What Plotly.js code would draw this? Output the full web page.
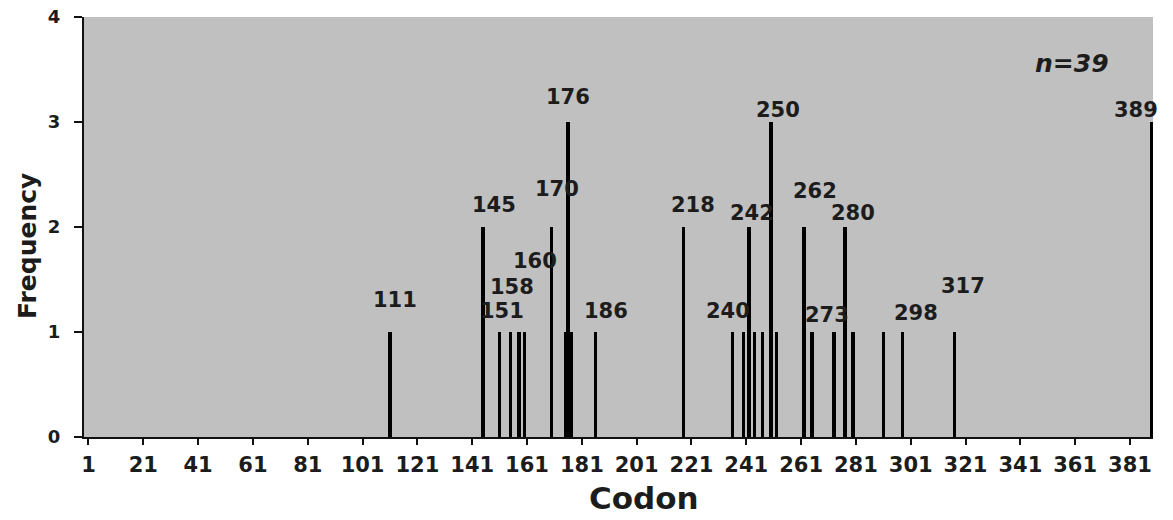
<!DOCTYPE html>
<html>
<head>
<meta charset="utf-8">
<script src="https://cdn.plot.ly/plotly-3.0.1.min.js"></script>
<style>html,body{margin:0;padding:0;background:#fff;}#chart{width:1173px;height:520px;}</style>
</head>
<body>
<div id="chart"></div>
<script>
// ---- data ----
const codons = [111,145,151,155,158,160,170,175,176,177,186,218,236,240,242,244,247,250,252,262,265,273,277,280,291,298,317,389];
const frequency = [1,2,1,1,1,1,2,1,3,1,1,2,1,1,2,1,1,3,1,2,1,1,2,1,1,1,1,3];
const labelCodons = [111,145,151,158,160,170,176,186,218,240,242,250,262,273,280,298,317,389];
const labelTexts = ["111","145","151","158","160","170","176","186","218","240","242","250","262","273","280","298","317","389"];
const xTickVals = [1,21,41,61,81,101,121,141,161,181,201,221,241,261,281,301,321,341,361,381];
const xTickText = ["1","21","41","61","81","101","121","141","161","181","201","221","241","261","281","301","321","341","361","381"];
const yTickVals = [0,1,2,3,4];
const sampleNote = "n=39";

// ---- label placement (pixel offsets from bar top) ----
const labelDx = [5,11,2,-7,11,5,0,10,10,-16,3,7,11,-7,0,13,8,-16];
const labelDy = [32,22,21,45,71,38,25,21,22,21,14,12,36,17,119,19,46,12];

const FONT = "DejaVu Sans, Liberation Sans, Arial, sans-serif";
const TXT = "#1c1c1c";

const freqOf = {};
codons.forEach((c,i)=>{freqOf[c]=frequency[i];});

const trace = {
  type: "bar",
  x: codons,
  y: frequency,
  width: codons.map(()=>1.25),
  marker: {color: "#000000", line: {width: 0}},
  hoverinfo: "x+y"
};

const L=84, R=20, T=17, B=83, W=1173, H=520;
const pw = W-L-R, ph = H-T-B;
const px2x = p => (p-L)/pw;
const py2y = p => (H-B-p)/ph;

const annotations = labelCodons.map((c,i)=>({
  x: c, y: freqOf[c], xref: "x", yref: "y",
  text: labelTexts[i], showarrow: false,
  xanchor: "center", yanchor: "middle",
  xshift: labelDx[i], yshift: labelDy[i],
  font: {family: FONT, size: 21, color: TXT, weight: "bold"}
}));

annotations.push({
  x: px2x(1072), y: py2y(63), xref: "paper", yref: "paper",
  text: sampleNote, showarrow: false, xanchor: "center", yanchor: "middle",
  font: {family: FONT, size: 25, color: TXT, weight: "bold", style: "italic"}
});
annotations.push({
  x: px2x(644), y: py2y(498), xref: "paper", yref: "paper", text: "Codon", showarrow:false,
  xanchor: "center", yanchor: "middle",
  font: {family: FONT, size: 31, color: TXT, weight: "bold"}
});
annotations.push({
  x: px2x(27), y: py2y(246), xref: "paper", yref: "paper", text: "Frequency", showarrow:false,
  textangle: -90, xanchor: "center", yanchor: "middle",
  font: {family: FONT, size: 25, color: TXT, weight: "bold"}
});

const layout = {
  width: W, height: H,
  margin: {l: L, r: R, t: T, b: B, pad: 0},
  paper_bgcolor: "#ffffff",
  plot_bgcolor: "#c0c0c0",
  showlegend: false,
  bargap: 0,
  xaxis: {
    range: [-0.64, 389.4],
    tickmode: "array", tickvals: xTickVals, ticktext: xTickText,
    ticks: "outside", ticklen: 6, tickwidth: 2, tickcolor: "#111",
    showline: true, linecolor: "#111", linewidth: 2,
    showgrid: false, zeroline: false,
    tickfont: {family: FONT, size: 21, color: TXT, weight: "bold"},
    ticklabelstandoff: 2
  },
  yaxis: {
    range: [0, 4],
    tickmode: "array", tickvals: yTickVals,
    ticks: "outside", ticklen: 8, tickwidth: 2, tickcolor: "#111",
    showline: true, linecolor: "#111", linewidth: 2,
    showgrid: false, zeroline: false,
    tickfont: {family: FONT, size: 18, color: TXT, weight: "bold"},
    ticklabelstandoff: 10
  },
  annotations: annotations
};

Plotly.newPlot("chart", [trace], layout, {displayModeBar: false, staticPlot: true});
</script>
</body>
</html>
